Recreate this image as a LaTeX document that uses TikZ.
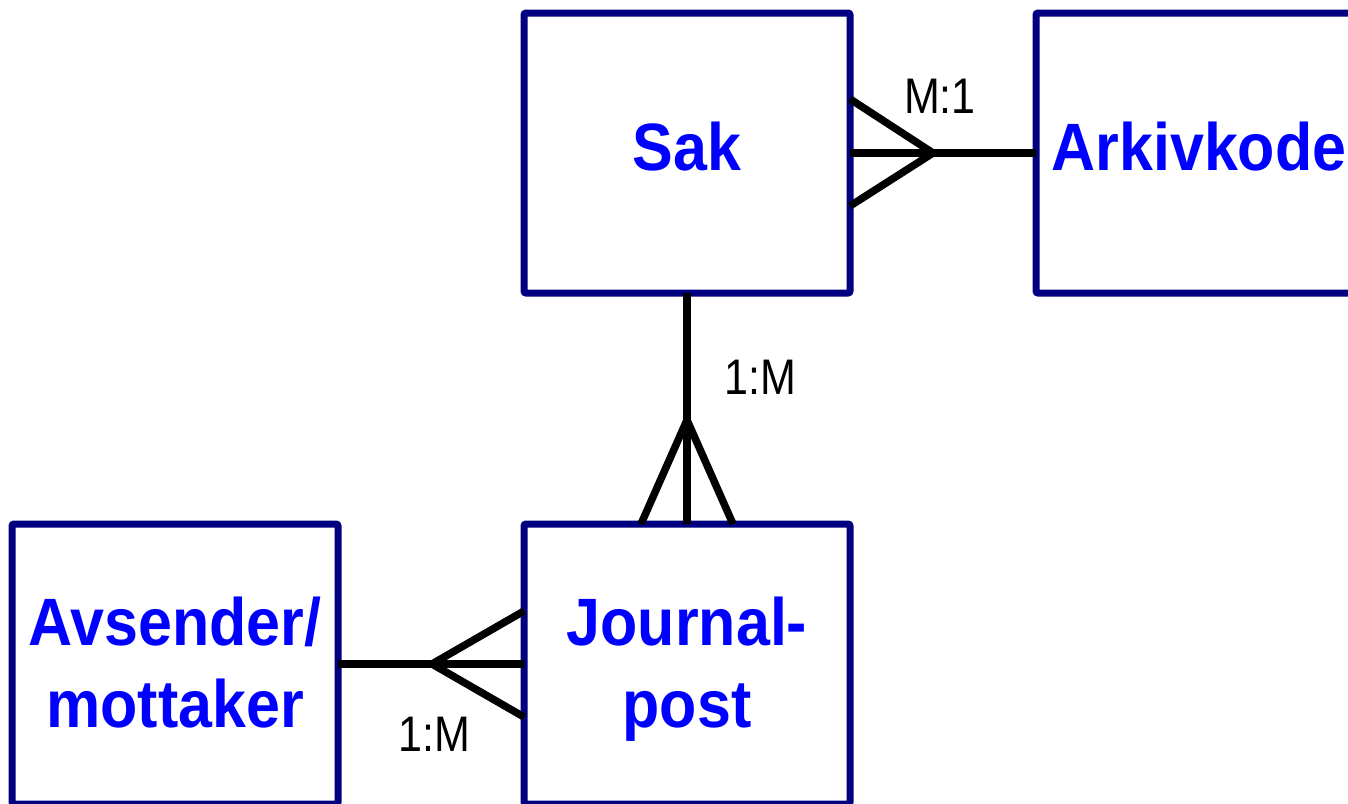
\documentclass[tikz,border=0pt]{standalone}
\usepackage{fontspec}
\setmainfont{Liberation Sans}
\usetikzlibrary{calc}
\definecolor{boxnavy}{RGB}{0,0,128}
\definecolor{textblue}{RGB}{0,0,255}
% entity name: condensed bold text, shifted vertically without changing its box
\newcommand{\entname}[2]{\raisebox{#1}[\height][\depth]{\scalebox{0.91}[1]{\begin{tabular}{@{}c@{}}#2\end{tabular}}}}
\newcommand{\cardname}[1]{\scalebox{0.86}[1]{#1}}
\tikzset{
  entity/.style={draw=boxnavy, line width=7pt, rectangle, rounded corners=2pt,
    minimum width=326pt, minimum height=280pt, inner sep=0pt, outer sep=0pt,
    text=textblue, font=\fontsize{67}{82}\selectfont\bfseries, align=center},
  link/.style={draw=black, line width=7.5pt, line join=round},
  card/.style={font=\fontsize{50}{60}\selectfont, text=black, inner sep=0pt, anchor=base}
}
\begin{document}
\begin{tikzpicture}[x=1pt, y=-1pt]
  \useasboundingbox (0,0) rectangle (1348,803);
  \clip (0,0) rectangle (1348,803);
  \fill[white] (0,0) rectangle (1348,803);

  % entities
  \node[entity] (sak) at (687,153) {\entname{-1pt}{Sak}};
  \node[entity] (ark) at (1199,153) {\entname{-1pt}{Arkivkode}};
  \node[entity] (jp) at (687,664) {\entname{-6pt}{Journal-\\post}};
  \node[entity] (avs) at (175,664) {\entname{-6pt}{Avsender/\\mottaker}};

  % crow's-foot apexes
  \coordinate (fsak) at (933,153);
  \coordinate (fjp) at (687,420);
  \coordinate (favs) at (432,664);

  % Sak -- Arkivkode (many at Sak)
  \draw[link] (sak.east) -- (ark.west);
  \draw[link] ($(sak.east)+(0,-54)$) -- (fsak) -- ($(sak.east)+(0,53)$);

  % Sak -- Journalpost (many at Journalpost)
  \draw[link] (sak.south) -- (jp.north);
  \draw[link] ($(jp.north)+(-46,0)$) -- (fjp) -- ($(jp.north)+(46,0)$);

  % Avsender/mottaker -- Journalpost (many at Journalpost)
  \draw[link] (avs.east) -- (jp.west);
  \draw[link] ($(jp.west)+(0,-53)$) -- (favs) -- ($(jp.west)+(0,53)$);

  % cardinalities
  \node[card] (c1) at (940,113) {\cardname{M:1}};
  \node[card] (c2) at (760,394) {\cardname{1:M}};
  \node[card] (c3) at (434,751) {\cardname{1:M}};
\end{tikzpicture}
\end{document}
